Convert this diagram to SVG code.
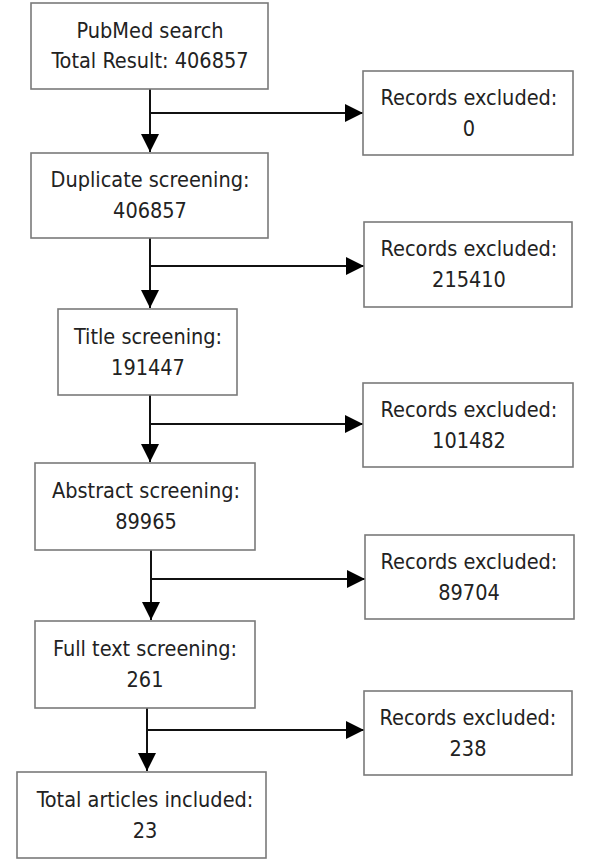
<svg xmlns="http://www.w3.org/2000/svg" width="614" height="862" viewBox="0 0 614 862">
<style>
.box{fill:#fff;stroke:#7a7a7a;stroke-width:1.6}
.t{font-family:"DejaVu Sans Condensed","DejaVu Sans",sans-serif;font-stretch:condensed;font-size:21.5px;fill:#222;text-anchor:middle}
.c{fill:none;stroke:#111;stroke-width:2}
</style>
<defs>
<marker id="ah" markerUnits="userSpaceOnUse" markerWidth="18" markerHeight="18" refX="18" refY="9" orient="auto">
<path d="M0,0 L18,9 L0,18 z" fill="#000"/>
</marker>
</defs>
<rect width="614" height="862" fill="#fff"/>
<g id="connectors">
<path class="c" d="M150,89 V152" marker-end="url(#ah)"/>
<path class="c" d="M150,113 H363" marker-end="url(#ah)"/>
<path class="c" d="M150,238 V308" marker-end="url(#ah)"/>
<path class="c" d="M150,266 H364" marker-end="url(#ah)"/>
<path class="c" d="M150,395 V462" marker-end="url(#ah)"/>
<path class="c" d="M150,424 H363" marker-end="url(#ah)"/>
<path class="c" d="M151,550 V620" marker-end="url(#ah)"/>
<path class="c" d="M151,579 H365" marker-end="url(#ah)"/>
<path class="c" d="M147,708 V771" marker-end="url(#ah)"/>
<path class="c" d="M147,730 H364" marker-end="url(#ah)"/>
</g>
<g id="pubmed"><rect class="box" x="31" y="3" width="237" height="86"/><text class="t" x="150" y="38">PubMed search</text><text class="t" x="150" y="68">Total Result: 406857</text></g>
<g id="duplicate"><rect class="box" x="31" y="153" width="237" height="85"/><text class="t" x="150" y="187">Duplicate screening:</text><text class="t" x="150" y="218">406857</text></g>
<g id="title"><rect class="box" x="58" y="309" width="179" height="86"/><text class="t" x="148" y="344">Title screening:</text><text class="t" x="148" y="375">191447</text></g>
<g id="abstract"><rect class="box" x="35" y="463" width="220" height="87"/><text class="t" x="146" y="498">Abstract screening:</text><text class="t" x="146" y="529">89965</text></g>
<g id="fulltext"><rect class="box" x="35" y="621" width="220" height="87"/><text class="t" x="145" y="656">Full text screening:</text><text class="t" x="145" y="687">261</text></g>
<g id="included"><rect class="box" x="17" y="772" width="249" height="86"/><text class="t" x="145" y="807">Total articles included:</text><text class="t" x="145" y="838">23</text></g>
<g id="excl1"><rect class="box" x="363" y="71" width="210" height="84"/><text class="t" x="469" y="105">Records excluded:</text><text class="t" x="469" y="136">0</text></g>
<g id="excl2"><rect class="box" x="364" y="222" width="208" height="85"/><text class="t" x="469" y="256">Records excluded:</text><text class="t" x="469" y="287">215410</text></g>
<g id="excl3"><rect class="box" x="363" y="383" width="210" height="84"/><text class="t" x="469" y="417">Records excluded:</text><text class="t" x="469" y="448">101482</text></g>
<g id="excl4"><rect class="box" x="365" y="535" width="209" height="84"/><text class="t" x="469" y="569">Records excluded:</text><text class="t" x="469" y="600">89704</text></g>
<g id="excl5"><rect class="box" x="364" y="691" width="208" height="84"/><text class="t" x="468" y="725">Records excluded:</text><text class="t" x="468" y="756">238</text></g>
</svg>
